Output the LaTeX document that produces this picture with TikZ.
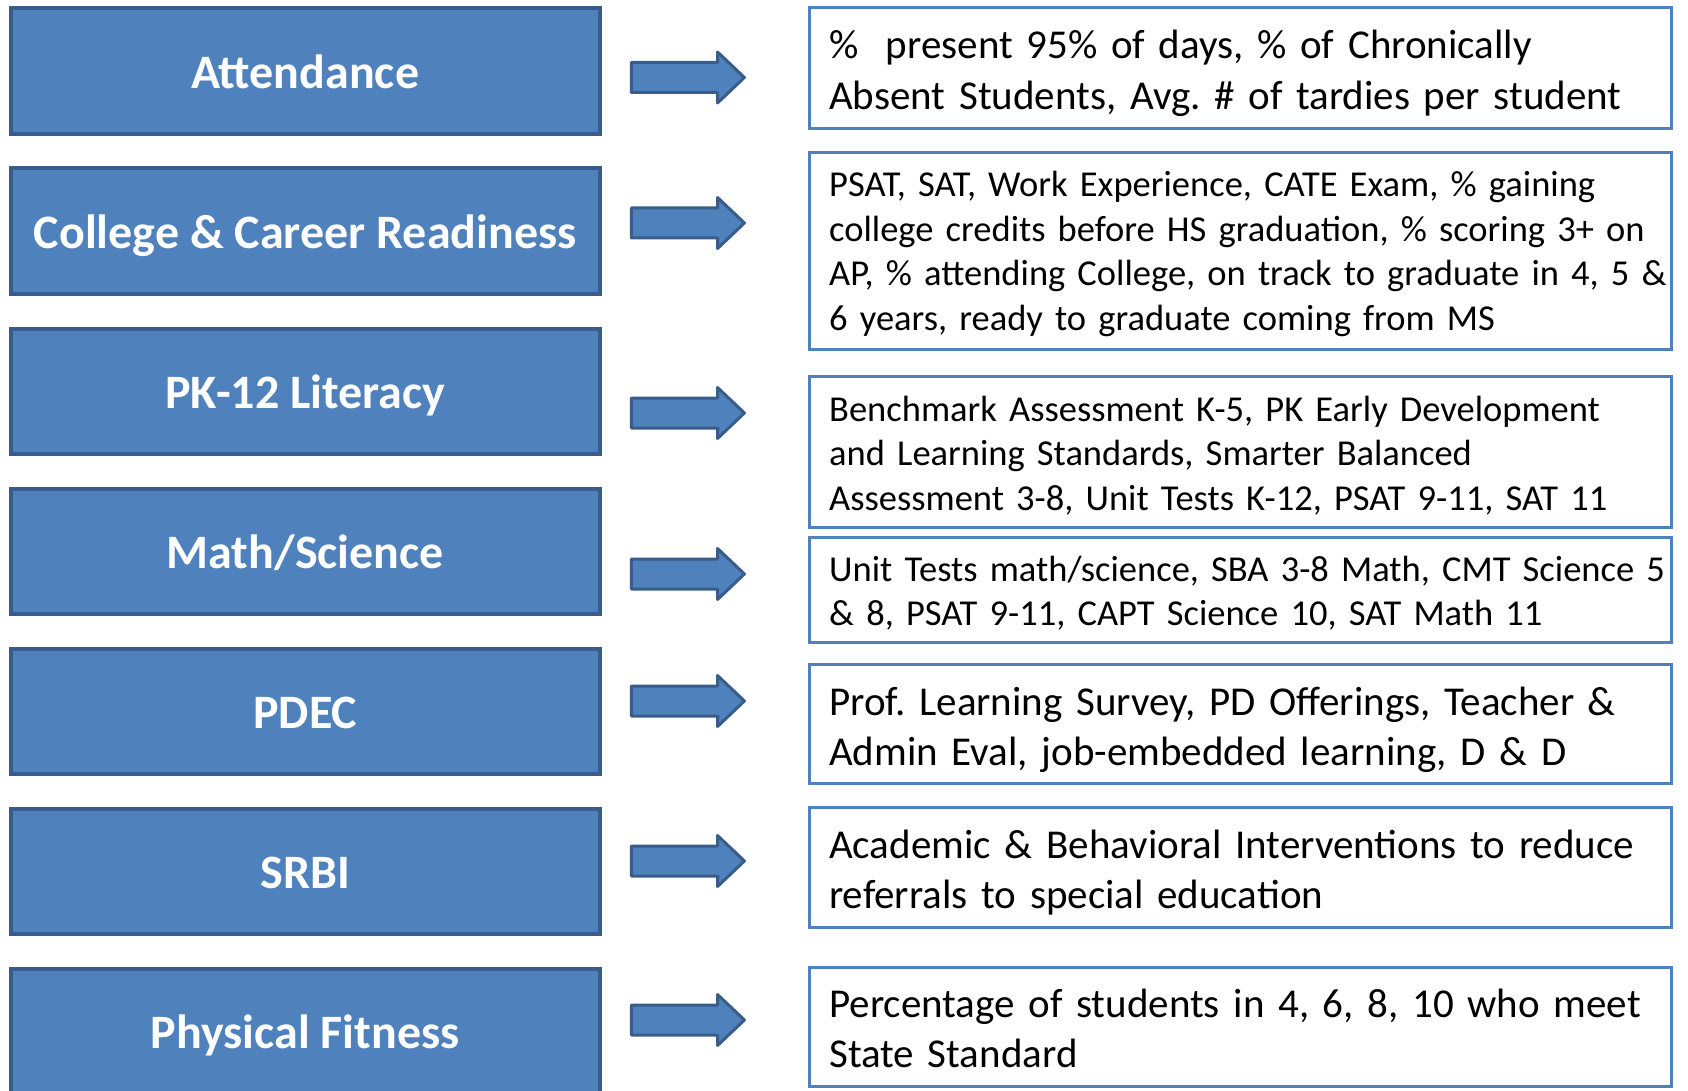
\documentclass[tikz,border=0pt]{standalone}
\usepackage{fontspec}
\setmainfont{Carlito}
\usetikzlibrary{shapes.arrows}
\definecolor{boxblue}{HTML}{4F81BD}
\definecolor{edgeblue}{HTML}{385D8A}

\begin{document}
\frenchspacing
\begin{tikzpicture}[x=1pt, y=-1pt,
        area/.style={draw=edgeblue, fill=boxblue, line width=4pt, minimum width=589pt, minimum height=125.5pt, text height=34pt, text depth=0pt, text=white, font=\fontsize{48}{56}\selectfont\bfseries},
        fatarrow/.style={single arrow, draw=edgeblue, fill=boxblue, line width=3pt, line join=round, minimum height=113pt, single arrow head extend=10.5pt, single arrow tip angle=87, inner xsep=0pt, inner ysep=13.5pt},
        metricbox/.style={draw=boxblue, line width=3pt, minimum width=862pt, anchor=north west},
        bignote/.style={anchor=base west, inner sep=0pt, align=left, text width=840pt, font=\fontsize{41}{50.6}\selectfont},
        smallnote/.style={bignote, font=\fontsize{36.5}{44.5}\selectfont}]
        \useasboundingbox (0,0) rectangle (1688,1091);

        % focus areas
        \node[area] (att) at (305.2, 71.25) {Attendance};
        \node[area] (ccr) at (305.2, 231.25) {College \& Career Readiness};
        \node[area] (lit) at (305.2, 391.25) {PK-12 Literacy};
        \node[area] (mat) at (305.2, 551.25) {Math/Science};
        \node[area] (pdec) at (305.2, 711.25) {PDEC};
        \node[area] (srbi) at (305.2, 871.25) {SRBI};
        \node[area] (fit) at (305.2, 1031.25) {Physical Fitness};

        % arrows
        \node[fatarrow] (att-arr) at (680, 77.5) {};
        \node[fatarrow] (ccr-arr) at (680, 223) {};
        \node[fatarrow] (lit-arr) at (680, 413) {};
        \node[fatarrow] (mat-arr) at (680, 574) {};
        \node[fatarrow] (pdec-arr) at (680, 701) {};
        \node[fatarrow] (srbi-arr) at (680, 861) {};
        \node[fatarrow] (fit-arr) at (680, 1020) {};

        % measures
        \node[metricbox, minimum height=120.5pt] (att-m) at (808, 6.5) {};
        \node[bignote] (att-t) at ([xshift=21pt, yshift=-52.5pt]att-m.north west)
            {\% \ present 95\% of days, \% of Chronically\\Absent Students, Avg. \# of tardies per student};

        \node[metricbox, minimum height=197pt] (ccr-m) at (808, 151) {};
        \node[smallnote] (ccr-t) at ([xshift=21pt, yshift=-46pt]ccr-m.north west)
            {PSAT, SAT, Work Experience, CATE Exam, \% gaining\\college credits before HS graduation, \% scoring 3+ on\\AP, \% attending College, on track to graduate in 4, 5 \&\\6 years, ready to graduate coming from MS};

        \node[metricbox, minimum height=150.5pt] (lit-m) at (808, 375) {};
        \node[smallnote] (lit-t) at ([xshift=21pt, yshift=-46pt]lit-m.north west)
            {Benchmark Assessment K-5, PK Early Development\\and Learning Standards, Smarter Balanced\\Assessment 3-8, Unit Tests K-12, PSAT 9-11, SAT 11};

        \node[metricbox, minimum height=105pt] (mat-m) at (808, 536) {};
        \node[smallnote] (mat-t) at ([xshift=21pt, yshift=-45pt]mat-m.north west)
            {Unit Tests math/science, SBA 3-8 Math, CMT Science 5\\\& 8, PSAT 9-11, CAPT Science 10, SAT Math 11};

        \node[metricbox, minimum height=119pt] (pdec-m) at (808, 663) {};
        \node[bignote] (pdec-t) at ([xshift=21pt, yshift=-52pt]pdec-m.north west)
            {Prof. Learning Survey, PD Offerings, Teacher \&\\Admin Eval, job-embedded learning, D \& D};

        \node[metricbox, minimum height=120pt] (srbi-m) at (808, 806) {};
        \node[bignote] (srbi-t) at ([xshift=21pt, yshift=-52pt]srbi-m.north west)
            {Academic \& Behavioral Interventions to reduce\\referrals to special education};

        \node[metricbox, minimum height=119pt] (fit-m) at (808, 966) {};
        \node[bignote] (fit-t) at ([xshift=21pt, yshift=-51pt]fit-m.north west)
            {Percentage of students in 4, 6, 8, 10 who meet\\State Standard};
\end{tikzpicture}
\end{document}
